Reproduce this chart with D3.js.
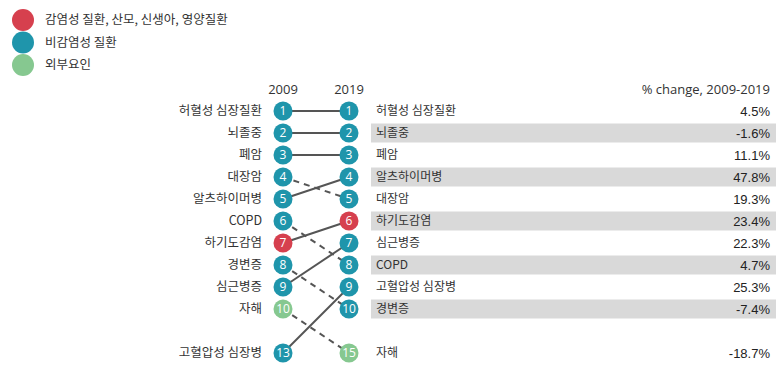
<!DOCTYPE html>
<html>
<head>
<meta charset="utf-8">
<script src="https://cdn.jsdelivr.net/npm/d3@7"></script>
<style>
  body { margin: 0; background: #fff; }
  text { font-family: "Noto Sans CJK KR", "Noto Sans", sans-serif; }
</style>
</head>
<body>
<svg width="784" height="368"></svg>
<script>
'use strict';
// 원인별 순위 (2009 -> 2019)
var causes = ['허혈성 심장질환', '뇌졸중', '폐암', '대장암', '알츠하이머병', 'COPD',
  '하기도감염', '경변증', '심근병증', '자해', '고혈압성 심장병'];
var rank2009 = [1, 2, 3, 4, 5, 6, 7, 8, 9, 10, 13];
var rank2019 = [1, 2, 3, 5, 4, 8, 6, 10, 7, 15, 9];
var groups = ['non', 'non', 'non', 'non', 'non', 'non', 'inf', 'non', 'non', 'ext', 'non'];
var change = [4.5, -1.6, 11.1, 19.3, 47.8, 4.7, 23.4, -7.4, 22.3, -18.7, 25.3];

var legendKeys = ['inf', 'non', 'ext'];
var legendLabels = ['감염성 질환, 산모, 신생아, 영양질환', '비감염성 질환', '외부요인'];
var COLORS = { inf: '#d6404e', non: '#1f95ab', ext: '#86c890' };

var svg = d3.select('svg');
var rows = causes.map((c, i) => ({
  name: c, r0: rank2009[i], r1: rank2019[i], g: groups[i], ch: change[i]
}));

// 10위 밖은 한 칸 띄우고 맨 아래에
function slot(r) { return r > 10 ? 12 : r; }
var y = d3.scaleLinear().domain([1, 12]).range([111, 353]);
var x = d3.scalePoint().domain(['2009', '2019']).range([283, 349]);
var R = 9.5;

// legend
var lg = svg.append('g');
var ly = d3.scalePoint().domain(legendKeys).range([20, 65]);
lg.selectAll('circle').data(legendKeys).join('circle')
  .attr('cx', 23).attr('cy', d => ly(d)).attr('r', 11)
  .attr('fill', d => COLORS[d]);
lg.selectAll('text').data(legendKeys).join('text')
  .attr('x', 45).attr('y', d => ly(d)).attr('dy', '0.35em')
  .attr('font-size', 12.5).attr('fill', '#333')
  .text((d, i) => legendLabels[i]);

// headers
svg.selectAll('text.year').data(x.domain()).join('text')
  .attr('class', 'year')
  .attr('x', d => x(d)).attr('y', 89).attr('dy', '0.35em')
  .attr('text-anchor', 'middle').attr('font-size', 13).attr('fill', '#333')
  .style('font-family', '"Open Sans", sans-serif')
  .text(d => d);
svg.append('text')
  .attr('x', 770).attr('y', 89).attr('dy', '0.35em')
  .attr('text-anchor', 'end').attr('font-size', 13).attr('fill', '#333')
  .style('font-family', '"Open Sans", sans-serif')
  .text('% change, 2009-2019');

// right table, ordered by 2019 rank
var right = rows.slice().sort((a, b) => a.r1 - b.r1);
var tbl = svg.append('g');
tbl.selectAll('rect').data(right).join('rect')
  .attr('x', 371).attr('width', 405)
  .attr('y', d => y(slot(d.r1)) - 9.5).attr('height', 19)
  .attr('fill', (d, i) => i % 2 && slot(d.r1) <= 10 ? '#d9d9d9' : 'none');
tbl.selectAll('text.name').data(right).join('text')
  .attr('class', 'name')
  .attr('x', 376).attr('y', d => y(slot(d.r1))).attr('dy', '0.35em')
  .attr('font-size', 12).attr('fill', '#333')
  .text(d => d.name);
tbl.selectAll('text.pct').data(right).join('text')
  .attr('class', 'pct')
  .attr('x', 770).attr('y', d => y(slot(d.r1))).attr('dy', '0.35em')
  .attr('text-anchor', 'end').attr('font-size', 13).attr('fill', '#222')
  .style('font-family', '"Liberation Sans", Arial, sans-serif')
  .text(d => d.ch.toFixed(1) + '%');

// left labels
svg.selectAll('text.left').data(rows).join('text')
  .attr('class', 'left')
  .attr('x', 262).attr('y', d => y(slot(d.r0))).attr('dy', '0.35em')
  .attr('text-anchor', 'end').attr('font-size', 12.5).attr('fill', '#333')
  .text(d => d.name);

// connecting lines
svg.selectAll('line.link').data(rows).join('line')
  .attr('class', 'link')
  .attr('x1', x('2009')).attr('y1', d => y(slot(d.r0)))
  .attr('x2', x('2019')).attr('y2', d => y(slot(d.r1)))
  .attr('stroke', '#555').attr('stroke-width', 2)
  .attr('stroke-dasharray', d => d.r1 > d.r0 ? '6,5' : null);

// rank circles
['2009', '2019'].forEach(yr => {
  var key = yr === '2009' ? 'r0' : 'r1';
  var g = svg.append('g');
  g.selectAll('circle').data(rows).join('circle')
    .attr('cx', x(yr)).attr('cy', d => y(slot(d[key]))).attr('r', R)
    .attr('fill', d => COLORS[d.g]);
  g.selectAll('text').data(rows).join('text')
    .attr('x', x(yr)).attr('y', d => y(slot(d[key]))).attr('dy', '0.36em')
    .attr('text-anchor', 'middle').attr('font-size', 12).attr('fill', '#fff')
    .style('font-family', '"Open Sans", sans-serif')
    .text(d => d[key]);
});
</script>
</body>
</html>
